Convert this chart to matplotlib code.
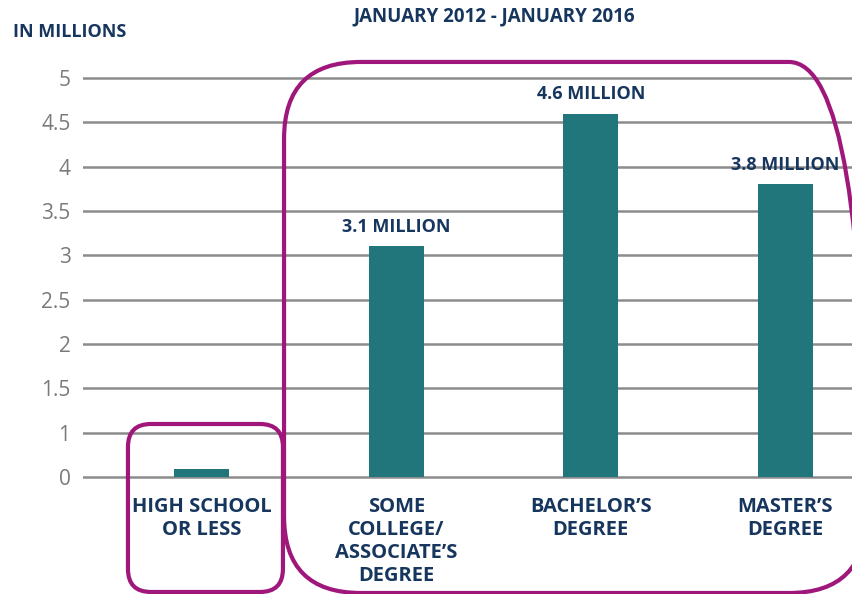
import numpy as np
import matplotlib.pyplot as plt
from matplotlib.patches import FancyBboxPatch

categories = ["HIGH SCHOOL\nOR LESS", "SOME\nCOLLEGE/\nASSOCIATE\u2019S\nDEGREE",
              "BACHELOR\u2019S\nDEGREE", "MASTER\u2019S\nDEGREE"]
jobs = [0.18, 3.1, 4.6, 3.8]          # millions of jobs
labelled = [False, True, True, True]
yticks = [0, 1, 1.5, 2, 2.5, 3, 3.5, 4, 4.5, 5]

NAVY = "#17365d"
TEAL = "#21767b"
GRID = "#8c8c8c"
MAGENTA = "#a0177c"

plt.rcParams['font.family'] = ['Open Sans', 'DejaVu Sans']


# broken axis: the 0-1 stretch is squeezed into half a step
def fwd(v):
    v = np.asarray(v, dtype=float)
    return np.where(v < 1, 0.5 + 0.5 * v, v)


def inv(d):
    d = np.asarray(d, dtype=float)
    return np.where(d < 1, (d - 0.5) * 2, d)


fig = plt.figure(figsize=(8.53, 5.94), dpi=100)
ax = fig.add_axes([0.0973, 0.1822, 0.9027, 0.7013])
ax.set_yscale('function', functions=(fwd, inv))

x = np.arange(len(categories))
ax.bar(x, jobs, width=0.283, color=TEAL, zorder=3)

for xi, v, lab in zip(x, jobs, labelled):
    if lab:
        ax.annotate(f"{v:.1f} MILLION", (xi, v), xytext=(0, 14),
                    textcoords='offset points', ha='center', va='center',
                    fontsize=13, fontweight='bold', color=NAVY)

ax.set_xlim(-0.6095, 3.347)
ax.set_ylim(-0.2, 5.1)
ax.set_yticks(yticks, [f"{t:g}" for t in yticks])
ax.set_xticks(x, categories)
ax.tick_params(axis='y', length=0, pad=9, labelsize=15, labelcolor='#7a7a7a')
ax.tick_params(axis='x', length=0, pad=8, labelsize=14.5, labelcolor=NAVY)
for t in ax.get_xticklabels():
    t.set_fontweight('bold')
    t.set_linespacing(1.2)

ax.grid(axis='y', color=GRID, linewidth=1.8, zorder=0)
ax.set_axisbelow(True)
for s in ax.spines.values():
    s.set_visible(False)

fig.text(0.579, 0.972, "JANUARY 2012 - JANUARY 2016", ha='center', va='center',
         fontsize=13.5, fontweight='bold', color=NAVY)
fig.text(0.015, 0.946, "IN MILLIONS", ha='left', va='center',
         fontsize=13, fontweight='bold', color=NAVY)

# rounded frames grouping the categories
aspect = 853 / 594
for (x0, y0, w, h, r) in [(0.150, 0.0034, 0.1817, 0.2828, 0.027),
                          (0.333, 0.0017, 0.682, 0.894, 0.09)]:
    box = FancyBboxPatch((x0, y0), w, h, boxstyle=f"round,pad=0,rounding_size={r}",
                         mutation_aspect=aspect, transform=fig.transFigure,
                         fill=False, edgecolor=MAGENTA, linewidth=3, zorder=5,
                         clip_on=False)
    fig.add_artist(box)

fig.savefig("out.png", dpi=100)
